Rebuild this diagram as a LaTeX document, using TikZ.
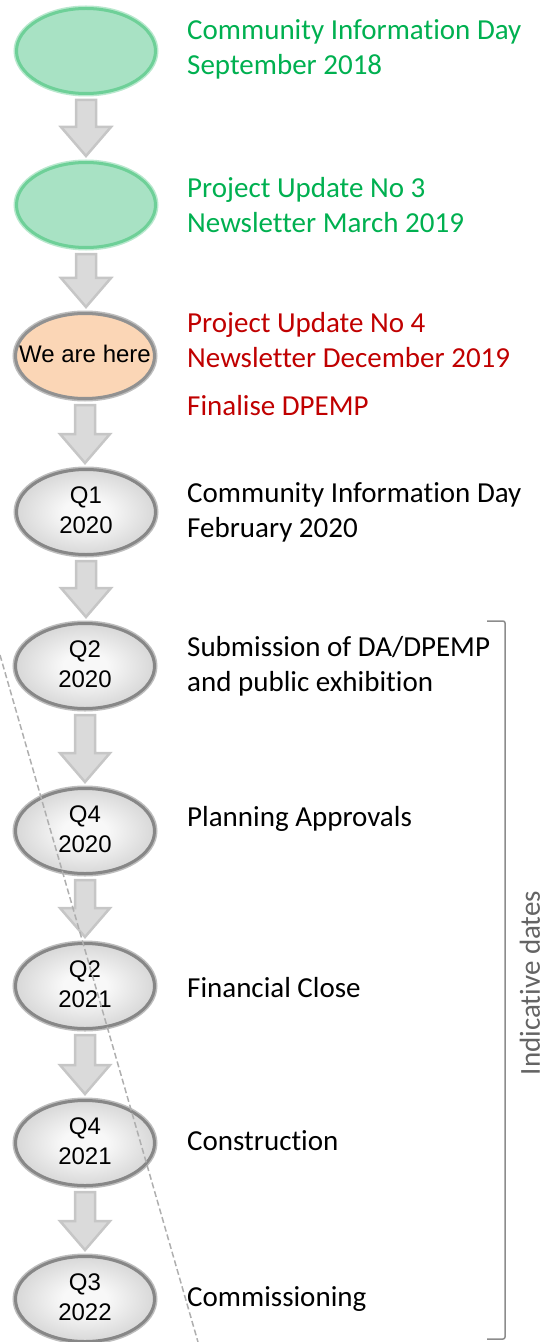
\documentclass[tikz,border=0pt]{standalone}
\usepackage{fontspec}
\setmainfont[RawFeature={-liga;-clig;-dlig;-calt;-rlig}]{Carlito}
\newfontfamily\calib[RawFeature={-liga;-clig;-dlig;-calt;-rlig}]{Carlito}
\newfontfamily\arialf{Liberation Sans}
\usetikzlibrary{shapes.geometric,calc}
\definecolor{ovc}{RGB}{248,248,248}
\definecolor{ove}{RGB}{168,168,168}
\definecolor{ovline}{RGB}{135,135,135}
\definecolor{ovout}{RGB}{190,190,190}
\definecolor{gfill}{RGB}{168,226,196}
\definecolor{gline}{RGB}{110,208,152}
\definecolor{gout}{RGB}{185,232,206}
\definecolor{ofill}{RGB}{251,214,182}
\definecolor{oline}{RGB}{145,145,145}
\definecolor{afill}{RGB}{218,218,218}
\definecolor{aline}{RGB}{198,198,198}
\definecolor{tgreen}{RGB}{0,176,80}
\definecolor{tred}{RGB}{192,0,0}
\definecolor{bracketgray}{RGB}{140,140,140}
\definecolor{dashgray}{RGB}{175,175,175}
\definecolor{labgray}{RGB}{100,100,100}
\pgfdeclareradialshading{ovalshade}{\pgfpoint{0bp}{0bp}}{color(0bp)=(ovc); color(8bp)=(ovc); color(50bp)=(ove)}
\newcommand\ovtxt[1]{\makebox[0pt]{\begin{tabular}{@{}c@{}}#1\end{tabular}}}
\newcommand\flowarrow[2]{%
  \draw[flowarr] let \p1=(#1.south), \p2=(#2.north) in
    (\x1-10bp,\y1-5bp) -- (\x1+10bp,\y1-5bp) -- (\x1+10bp,\y2+34bp) --
    (\x1+25bp,\y2+34bp) -- (\x1,\y2+5bp) -- (\x1-25bp,\y2+34bp) --
    (\x1-10bp,\y2+34bp) -- cycle;}
\begin{document}
\begin{tikzpicture}[x=1bp,y=-1bp,
  oval/.style={ellipse, minimum width=139bp, minimum height=85bp, inner sep=0pt,
    line width=3bp, font=\arialf\fontsize{24bp}{30bp}\selectfont},
  greenoval/.style={oval, preaction={draw=gout, line width=6bp}, fill=gfill, draw=gline},
  orangeoval/.style={oval, preaction={draw=ovout, line width=6bp}, fill=ofill, draw=oline},
  grayoval/.style={oval, preaction={draw=ovout, line width=6bp}, shading=ovalshade, draw=ovline},
  flowarr/.style={draw=aline, fill=afill, line width=2.5bp, line join=miter},
  lbl/.style={anchor=west, align=left, inner sep=0pt, font=\calib\fontsize{29bp}{35bp}\selectfont},
  bracketline/.style={draw=bracketgray, line width=1.5bp, rounded corners=2bp},
  dashline/.style={draw=dashgray, line width=1.5bp, dash pattern=on 6bp off 3bp}]
\useasboundingbox (0,0) rectangle (545,1342);

\node[greenoval] (e1) at (86,51) {};
\node[greenoval] (e2) at (86,205) {};
\node[orangeoval] (e3) at (85,356) {\ovtxt{We are here}};
\node[grayoval] (e4) at (86,512) {\ovtxt{Q1\\2020}};
\node[grayoval] (e5) at (85,666) {\ovtxt{Q2\\2020}};
\node[grayoval] (e6) at (85,831) {\ovtxt{Q4\\2020}};
\node[grayoval] (e7) at (85,986) {\ovtxt{Q2\\2021}};
\node[grayoval] (e8) at (85,1143) {\ovtxt{Q4\\2021}};
\node[grayoval] (e9) at (85,1299) {\ovtxt{Q3\\2022}};

\flowarrow{e1}{e2}
\flowarrow{e2}{e3}
\flowarrow{e3}{e4}
\flowarrow{e4}{e5}
\flowarrow{e5}{e6}
\flowarrow{e6}{e7}
\flowarrow{e7}{e8}
\flowarrow{e8}{e9}

\node[lbl, text=tgreen] (t1) at (187,49) {Community Information Day\\September 2018};
\node[lbl, text=tgreen] (t2) at (187,205) {Project Update No 3\\Newsletter March 2019};
\node[lbl, text=tred] (t3) at (187,340) {Project Update No 4\\Newsletter December 2019};
\node[lbl, text=tred] (t3b) at (187,406) {Finalise DPEMP};
\node[lbl] (t4) at (187,512) {Community Information Day\\February 2020};
\node[lbl] (t5) at (187,666) {Submission of DA/DPEMP\\and public exhibition};
\node[lbl] (t6) at (187,819) {Planning Approvals};
\node[lbl] (t7) at (187,988) {Financial Close};
\node[lbl] (t8) at (187,1141) {Construction};
\node[lbl] (t9) at (187,1299) {Commissioning};

\coordinate (b1) at (487,621);
\coordinate (b2) at (505,621);
\coordinate (b3) at (505,1339);
\coordinate (b4) at (487,1339);
\draw[bracketline] (b1) -- (b2) -- (b3) -- (b4);
\node[rotate=90, text=labgray, inner sep=0pt, font=\calib\fontsize{29bp}{35bp}\selectfont] (ind) at (530,983) {Indicative dates};

\coordinate (d1) at (0,655);
\coordinate (d2) at (198,1342);
\draw[dashline] (d1) -- (d2);
\end{tikzpicture}
\end{document}
